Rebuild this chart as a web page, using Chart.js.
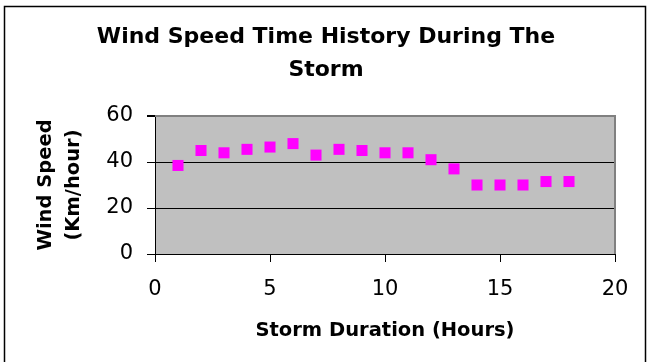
<!DOCTYPE html>
<html>
<head>
<meta charset="utf-8">
<script src="https://cdn.jsdelivr.net/npm/chart.js@4/dist/chart.umd.min.js"></script>
<style>
  html, body { margin: 0; padding: 0; background: #fff; }
  #wrap { width: 647px; height: 362px; position: relative; }
</style>
</head>
<body>
<div id="wrap"><canvas id="chart" width="647" height="362"></canvas></div>
<script>
// ===== Dados =====
const hours = [1, 2, 3, 4, 5, 6, 7, 8, 9, 10, 11, 12, 13, 14, 15, 16, 17, 18];
const windSpeed = [38.5, 45, 44, 45.5, 46.5, 48, 43, 45.5, 45, 44, 44, 41, 37, 30, 30, 30, 31.5, 31.5];
const titleLines = ['Wind Speed Time History During The', 'Storm'];
const yTitleLines = ['Wind Speed', '(Km/hour)'];
const xTitle = 'Storm Duration (Hours)';

const FONT = 'DejaVu Sans';

// fundo cinza + moldura da área do gráfico
const plotBg = {
  id: 'plotBg',
  beforeDraw(chart) {
    const { ctx, chartArea: a } = chart;
    ctx.save();
    ctx.fillStyle = '#c0c0c0';
    ctx.fillRect(a.left, a.top, a.right - a.left, a.bottom - a.top);
    ctx.restore();
  },
  beforeDatasetsDraw(chart) {
    const { ctx, chartArea: a } = chart;
    ctx.save();
    ctx.strokeStyle = '#808080';
    ctx.lineWidth = 2;
    ctx.beginPath();
    ctx.moveTo(a.left, a.top);
    ctx.lineTo(a.right, a.top);
    ctx.lineTo(a.right, a.bottom);
    ctx.stroke();
    ctx.restore();
  },
  afterDraw(chart) {
    const { ctx, width, height } = chart;
    ctx.save();
    ctx.strokeStyle = '#000';
    ctx.lineWidth = 1.5;
    ctx.beginPath();
    ctx.moveTo(4.5, height);
    ctx.lineTo(4.5, 6.5);
    ctx.lineTo(width - 1.5, 6.5);
    ctx.lineTo(width - 1.5, height);
    ctx.stroke();
    ctx.restore();
  }
};

const points = hours.map((h, i) => ({ x: h, y: windSpeed[i] }));

new Chart(document.getElementById('chart').getContext('2d'), {
  type: 'scatter',
  data: {
    datasets: [{
      label: 'Wind Speed',
      data: points,
      pointStyle: 'rect',
      pointRadius: 7.8,
      pointHoverRadius: 7.8,
      backgroundColor: '#ff00ff',
      borderColor: '#ff00ff',
      borderWidth: 0
    }]
  },
  options: {
    responsive: false,
    animation: false,
    events: [],
    layout: { padding: { left: 5, right: 0, top: 0, bottom: 0 } },
    plugins: {
      legend: { display: false },
      tooltip: { enabled: false },
      title: {
        display: true,
        text: titleLines,
        color: '#000',
        font: { family: FONT, size: 22, weight: 'bold', lineHeight: 33 / 22 },
        padding: { top: 20.5, bottom: 29.5 }
      }
    },
    scales: {
      x: {
        type: 'linear',
        min: 0, max: 20,
        afterFit: (s) => { s.height = 108; s.paddingRight = 32; },
        ticks: { stepSize: 5, color: '#000', padding: 15, font: { family: FONT, size: 21 } },
        grid: { drawOnChartArea: false, tickLength: 8, tickColor: '#000', color: '#000' },
        border: { color: '#000', width: 1 },
        title: {
          display: true,
          text: xTitle,
          color: '#000',
          font: { family: FONT, size: 19.5, weight: 'bold', lineHeight: 1.2 },
          padding: { top: 0, bottom: 19 }
        }
      },
      y: {
        min: 0, max: 60,
        afterFit: (s) => { s.width = 150; },
        ticks: { stepSize: 20, color: '#000', padding: 14, font: { family: FONT, size: 21 } },
        grid: {
          tickLength: 8,
          tickColor: '#000',
          color: (c) => (c.tick && c.tick.value === 60 ? '#808080' : '#000'),
          lineWidth: (c) => (c.tick && c.tick.value === 60 ? 2 : 1)
        },
        border: { color: '#000', width: 1 },
        title: {
          display: true,
          text: yTitleLines,
          color: '#000',
          font: { family: FONT, size: 19.5, weight: 'bold', lineHeight: 28 / 19.5 },
          padding: { top: 27, bottom: 0 }
        }
      }
    }
  },
  plugins: [plotBg]
});
</script>
</body>
</html>
